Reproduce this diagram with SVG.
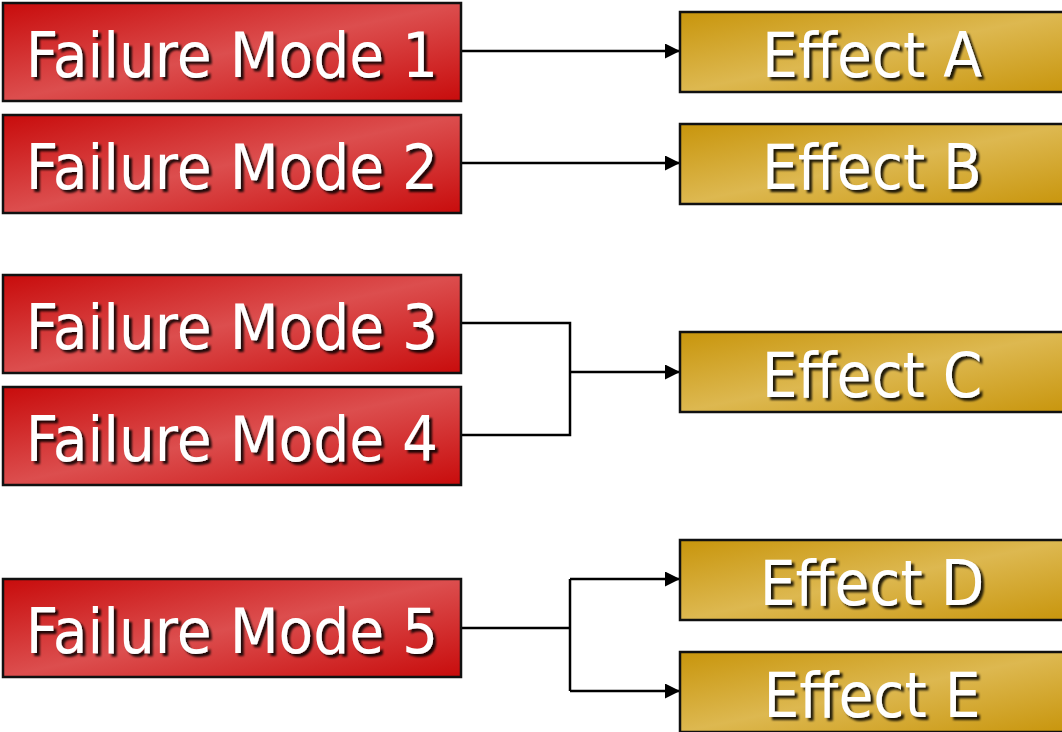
<svg xmlns="http://www.w3.org/2000/svg" width="1062" height="732" viewBox="0 0 1062 732">
<defs>
<linearGradient id="red" x1="0" y1="0" x2="1" y2="1">
<stop offset="0" stop-color="#c80c0c"/>
<stop offset="0.5" stop-color="#dc4e4e"/>
<stop offset="1" stop-color="#c80c0c"/>
</linearGradient>
<linearGradient id="gold" x1="0" y1="0" x2="1" y2="1">
<stop offset="0" stop-color="#c8950c"/>
<stop offset="0.5" stop-color="#ddb850"/>
<stop offset="1" stop-color="#c8950c"/>
</linearGradient>
<filter id="sh" x="-10%" y="-20%" width="120%" height="150%">
<feDropShadow dx="3" dy="3" stdDeviation="1" flood-color="#000" flood-opacity="0.85"/>
</filter>
<marker id="arr" viewBox="0 0 10 10" refX="10" refY="5" markerWidth="6" markerHeight="6" orient="auto" markerUnits="strokeWidth">
<path d="M0,0 L10,5 L0,10 z" fill="#000"/>
</marker>
<style>
.fm rect{fill:url(#red);stroke:#111;stroke-width:2.5}
.ef rect{fill:url(#gold);stroke:#111;stroke-width:2.5}
text{font-family:"DejaVu Sans Condensed","DejaVu Sans",sans-serif;font-size:63px;fill:#fff;text-anchor:middle;filter:url(#sh)}
.c{fill:none;stroke:#000;stroke-width:2.5}
</style>
</defs>
<rect width="1062" height="732" fill="#fff"/>
<g id="connectors">
<path class="c" d="M461,51 H680" marker-end="url(#arr)"/>
<path class="c" d="M461,163 H680" marker-end="url(#arr)"/>
<path class="c" d="M461,323 H570 V435 H461"/>
<path class="c" d="M570,372 H680" marker-end="url(#arr)"/>
<path class="c" d="M461,628 H570"/>
<path class="c" d="M570,579 V691"/>
<path class="c" d="M570,579 H680" marker-end="url(#arr)"/>
<path class="c" d="M570,691 H680" marker-end="url(#arr)"/>
</g>
<g id="fm1" class="fm"><rect x="3" y="3" width="458" height="98"/><text x="232" y="77">Failure Mode 1</text></g>
<g id="fm2" class="fm"><rect x="3" y="115" width="458" height="98"/><text x="232" y="189">Failure Mode 2</text></g>
<g id="fm3" class="fm"><rect x="3" y="275" width="458" height="98"/><text x="232" y="349">Failure Mode 3</text></g>
<g id="fm4" class="fm"><rect x="3" y="387" width="458" height="98"/><text x="232" y="461">Failure Mode 4</text></g>
<g id="fm5" class="fm"><rect x="3" y="579" width="458" height="98"/><text x="232" y="653">Failure Mode 5</text></g>
<g id="ea" class="ef"><rect x="680" y="12" width="390" height="80"/><text x="872" y="77">Effect A</text></g>
<g id="eb" class="ef"><rect x="680" y="124" width="390" height="80"/><text x="872" y="189">Effect B</text></g>
<g id="ec" class="ef"><rect x="680" y="332" width="390" height="80"/><text x="872" y="397">Effect C</text></g>
<g id="ed" class="ef"><rect x="680" y="540" width="390" height="80"/><text x="872" y="605">Effect D</text></g>
<g id="ee" class="ef"><rect x="680" y="652" width="390" height="80"/><text x="872" y="717">Effect E</text></g>
</svg>
